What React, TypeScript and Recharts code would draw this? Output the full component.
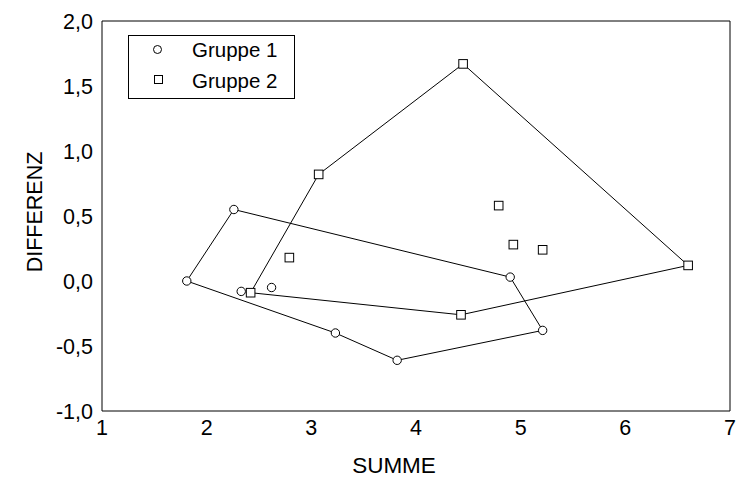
import React from 'react';
import { ScatterChart, Scatter, XAxis, YAxis, Legend } from 'recharts';

// Gruppe 1 (Kreise)
const summeGruppe1 = [1.81, 2.26, 2.33, 2.62, 3.23, 3.82, 4.9, 5.21];
const differenzGruppe1 = [0.0, 0.55, -0.08, -0.05, -0.4, -0.61, 0.03, -0.38];
const huelleGruppe1 = [0, 1, 6, 7, 5, 4, 0];

// Gruppe 2 (Quadrate)
const summeGruppe2 = [2.42, 2.79, 3.07, 4.45, 4.43, 4.79, 4.93, 5.21, 6.6];
const differenzGruppe2 = [-0.09, 0.18, 0.82, 1.67, -0.26, 0.58, 0.28, 0.24, 0.12];
const huelleGruppe2 = [0, 2, 3, 8, 4, 0];

const gruppenNamen = ['Gruppe 1', 'Gruppe 2'];

const xTicks = [1, 2, 3, 4, 5, 6, 7];
const yTicks = [-1, -0.5, 0, 0.5, 1, 1.5, 2];

const schritte = (von: number, bis: number, schritt: number) =>
  Array.from({ length: Math.round((bis - von) / schritt) + 1 }, (_, i) => +(von + i * schritt).toFixed(2));

const xMinorTicks = schritte(1, 7, 0.2);
const yMinorTicks = schritte(-1, 2, 0.1);

const punkte = (xs: number[], ys: number[]) => xs.map((x, i) => ({ x, y: ys[i] }));
const huelle = (xs: number[], ys: number[], idx: number[]) => idx.map((i) => ({ x: xs[i], y: ys[i] }));

const daten1 = punkte(summeGruppe1, differenzGruppe1);
const daten2 = punkte(summeGruppe2, differenzGruppe2);
const huelle1 = huelle(summeGruppe1, differenzGruppe1, huelleGruppe1);
const huelle2 = huelle(summeGruppe2, differenzGruppe2, huelleGruppe2);

const FONT = '"Liberation Sans", Arial, sans-serif';

const Kreis = (p: any) => (
  <circle cx={p.cx} cy={p.cy} r={4.2} fill="#fff" stroke="#000" strokeWidth={1} />
);
const Quadrat = (p: any) => (
  <rect x={p.cx - 4.3} y={p.cy - 4.3} width={8.6} height={8.6} fill="#fff" stroke="#000" strokeWidth={1} />
);
const Leer = () => <g />;

const Legende = () => (
  <svg width={167} height={64} style={{ display: 'block' }}>
    <rect x={0.5} y={0.5} width={166} height={63} fill="#fff" stroke="#000" strokeWidth={1} />
    <circle cx={29.5} cy={14.5} r={4} fill="#fff" stroke="#000" strokeWidth={1} />
    <rect x={26.5} y={40.5} width={8} height={8} fill="#fff" stroke="#000" strokeWidth={1} />
    {gruppenNamen.map((name, i) => (
      <text key={name} x={64} y={21.5 + i * 31} fontFamily={FONT} fontSize={20.5} fill="#000">
        {name}
      </text>
    ))}
  </svg>
);

// Achsentitel unten, etwas links der Plotmitte
const TitelX = ({ viewBox }: any) => (
  <text x={viewBox.x + viewBox.width / 2 - 22} y={viewBox.y + 62} textAnchor="middle"
    fontFamily={FONT} fontSize={22.5} fill="#000">SUMME</text>
);

// Achsentitel links, gedreht
const TitelY = ({ viewBox }: any) => {
  const cx = 34;
  const cy = viewBox.y + viewBox.height / 2 - 4;
  return (
    <text x={cx} y={cy} dy={8} textAnchor="middle" transform={`rotate(-90, ${cx}, ${cy})`}
      fontFamily={FONT} fontSize={21.5} fill="#000">DIFFERENZ</text>
  );
};

const fmtY = (v: number) => v.toFixed(1).replace('.', ',');

const tickStil = { fontSize: 21.5, fill: '#000', fontFamily: FONT };
const rahmen = { stroke: '#000', strokeWidth: 1 };

export default function App() {
  return (
    <div style={{ position: 'fixed', left: 0, top: 0, width: 736, height: 480, background: '#fff' }}>
      <ScatterChart width={736} height={480} margin={{ top: 0, right: 0, bottom: 0, left: 0 }}>
        <XAxis
          xAxisId="x"
          dataKey="x"
          type="number"
          domain={[1, 7]}
          ticks={xTicks}
          interval={0}
          allowDataOverflow
          height={69}
          tickSize={0}
          tickMargin={9}
          tick={tickStil}
          axisLine={rahmen}
          label={<TitelX />}
        />
        {/* Rahmenlinie oben und rechts */}
        <XAxis xAxisId="xOben" type="number" domain={[1, 7]} orientation="top" height={21}
          tick={false} tickLine={false} axisLine={rahmen} />
        <YAxis yAxisId="yRechts" type="number" domain={[-1, 2]} orientation="right" width={6}
          tick={false} tickLine={false} axisLine={rahmen} />

        {/* Innenliegende Teilstriche */}
        <XAxis xAxisId="xUntenMinor" type="number" domain={[1, 7]} ticks={xMinorTicks} interval={0} mirror height={1}
          orientation="bottom" tick={false} tickSize={2} axisLine={false} tickLine={rahmen} />
        <XAxis xAxisId="xUntenMajor" type="number" domain={[1, 7]} ticks={xTicks} interval={0} mirror height={1}
          orientation="bottom" tick={false} tickSize={3.5} axisLine={false} tickLine={rahmen} />
        <XAxis xAxisId="xObenMinor" type="number" domain={[1, 7]} ticks={xMinorTicks} interval={0} mirror height={1}
          orientation="top" tick={false} tickSize={2} axisLine={false} tickLine={rahmen} />
        <XAxis xAxisId="xObenMajor" type="number" domain={[1, 7]} ticks={xTicks} interval={0} mirror height={1}
          orientation="top" tick={false} tickSize={3.5} axisLine={false} tickLine={rahmen} />

        <YAxis
          yAxisId="y"
          dataKey="y"
          type="number"
          domain={[-1, 2]}
          ticks={yTicks}
          interval={0}
          allowDataOverflow
          width={102}
          tickSize={0}
          tickMargin={9}
          tickFormatter={fmtY}
          tick={tickStil}
          axisLine={rahmen}
          label={<TitelY />}
        />
        <YAxis yAxisId="yLinksMinor" type="number" domain={[-1, 2]} ticks={yMinorTicks} interval={0} mirror width={1}
          orientation="left" tick={false} tickSize={2} axisLine={false} tickLine={rahmen} />
        <YAxis yAxisId="yLinksMajor" type="number" domain={[-1, 2]} ticks={yTicks} interval={0} mirror width={1}
          orientation="left" tick={false} tickSize={3.5} axisLine={false} tickLine={rahmen} />
        <YAxis yAxisId="yRechtsMinor" type="number" domain={[-1, 2]} ticks={yMinorTicks} interval={0} mirror width={1}
          orientation="right" tick={false} tickSize={2} axisLine={false} tickLine={rahmen} />
        <YAxis yAxisId="yRechtsMajor" type="number" domain={[-1, 2]} ticks={yTicks} interval={0} mirror width={1}
          orientation="right" tick={false} tickSize={3.5} axisLine={false} tickLine={rahmen} />

        <Scatter xAxisId="x" yAxisId="y" data={huelle1} shape={Leer} line={rahmen} lineType="joint"
          legendType="none" isAnimationActive={false} />
        <Scatter xAxisId="x" yAxisId="y" data={huelle2} shape={Leer} line={rahmen} lineType="joint"
          legendType="none" isAnimationActive={false} />
        <Scatter xAxisId="x" yAxisId="y" name={gruppenNamen[0]} data={daten1} shape={Kreis} isAnimationActive={false} />
        <Scatter xAxisId="x" yAxisId="y" name={gruppenNamen[1]} data={daten2} shape={Quadrat} isAnimationActive={false} />

        <Legend
          layout="vertical"
          align="center"
          verticalAlign="middle"
          content={Legende}
          wrapperStyle={{ left: 128, top: 35, width: 167, height: 64 }}
        />
      </ScatterChart>
    </div>
  );
}
